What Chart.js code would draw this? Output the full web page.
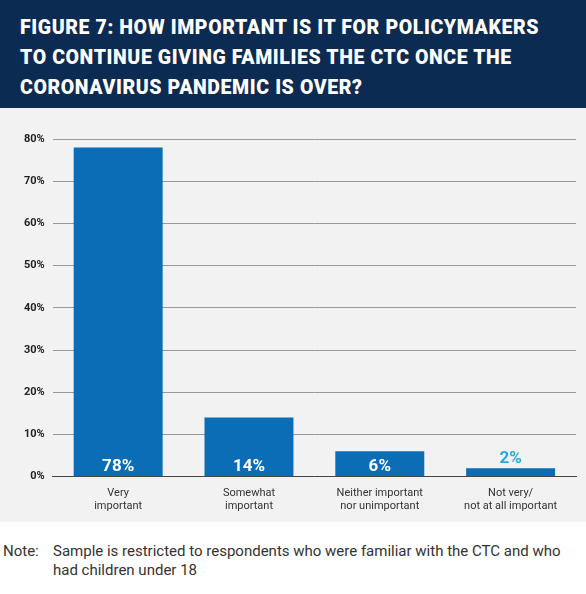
<!DOCTYPE html>
<html><head><meta charset="utf-8">
<script src="https://cdn.jsdelivr.net/npm/chart.js@4"></script>
<style>
body{margin:0;width:586px;height:594px;background:#fff;font-family:Roboto,"Liberation Sans",sans-serif;position:relative;overflow:hidden}
#hd{position:absolute;left:0;top:0;width:586px;height:108px;background:#0c2b52;color:#fff;box-sizing:border-box;padding:13px 0 0 20px;font-weight:900;font-size:19.5px;line-height:30px;letter-spacing:0.6px}
#panel{position:absolute;left:0;top:108px;width:586px;height:414px;background:#f2f2f2}
#note{position:absolute;left:3px;top:542px;width:580px;font-size:15px;color:#333;line-height:19px;display:flex}
#note span:first-child{width:50px;flex:none}
</style></head><body>
<div id="hd">FIGURE 7: HOW IMPORTANT IS IT FOR POLICYMAKERS<br>TO CONTINUE GIVING FAMILIES THE CTC ONCE THE<br>CORONAVIRUS PANDEMIC IS OVER?</div>
<div id="panel"><canvas id="c" width="586" height="414"></canvas></div>
<div id="note"><span>Note:</span><span>Sample is restricted to respondents who were familiar with the CTC and who had children under 18</span></div>
<script>
const categories=[["Very","important"],["Somewhat","important"],["Neither important","nor unimportant"],["Not very/","not at all important"]];
const values=[78,14,6,2];
const yTicks=[0,10,20,30,40,50,60,70,80];
const labelPlugin={id:'lbl',afterDatasetsDraw(ch){const ctx=ch.ctx;const meta=ch.getDatasetMeta(0);ctx.save();ctx.font='bold 17px Roboto';ctx.textAlign='center';
meta.data.forEach((b,i)=>{const v=values[i];if(v<4){ctx.fillStyle='#29a9e1';ctx.textBaseline='bottom';ctx.fillText(v+'%',b.x,b.y-1);}else{ctx.fillStyle='#fff';ctx.textBaseline='alphabetic';ctx.fillText(v+'%',b.x,ch.scales.y.getPixelForValue(0)-6);}});ctx.restore();}};
new Chart(document.getElementById('c'),{type:'bar',data:{labels:categories,datasets:[{data:values,backgroundColor:'#0b6db6',categoryPercentage:0.68,barPercentage:1}]},
options:{responsive:false,animation:false,layout:{padding:{top:31,right:10,bottom:7,left:16}},plugins:{legend:{display:false},tooltip:{enabled:false}},
scales:{x:{grid:{display:false},border:{color:'#444'},ticks:{color:'#333',font:{size:11,family:'Roboto'},padding:2,maxRotation:0}},
y:{min:0,max:80,afterBuildTicks:a=>{a.ticks=yTicks.map(v=>({value:v}))},grid:{color:'#999',drawTicks:false},border:{display:false},ticks:{color:'#222',font:{size:11,weight:'bold',family:'Roboto'},padding:8,callback:v=>v+'%'}}}},plugins:[labelPlugin]});
</script></body></html>
